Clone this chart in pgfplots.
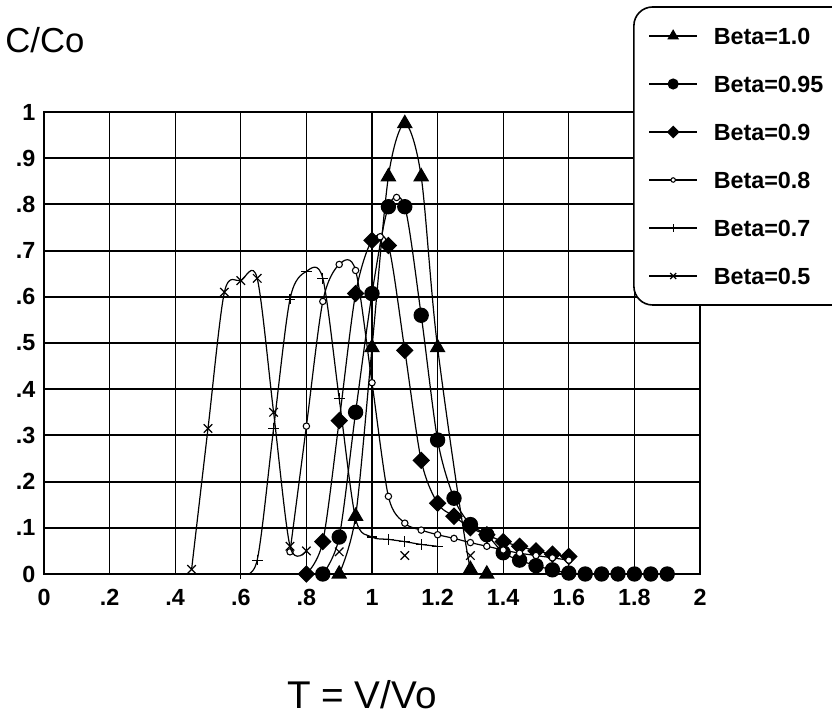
\documentclass[border=0pt]{standalone}
\usepackage{fontspec}
\setmainfont{Liberation Sans}
\usepackage{pgfplots}
\pgfplotsset{compat=1.18}
\tikzset{every mark/.append style={sharp corners}}

\begin{document}
\begin{tikzpicture}
\useasboundingbox (0,0) rectangle (624pt,537.75pt);
\begin{axis}[
  at={(33pt,107.25pt)}, anchor=south west,
  scale only axis, width=492pt, height=346.5pt,
  xmin=0, xmax=2, ymin=0, ymax=1,
  clip mode=individual,
  xtick={0,0.2,0.4,0.6,0.8,1,1.2,1.4,1.6,1.8,2},
  ytick={0,0.1,0.2,0.3,0.4,0.5,0.6,0.7,0.8,0.9,1},
  xticklabels={0,.2,.4,.6,.8,1,1.2,1.4,1.6,1.8,2},
  yticklabels={0,.1,.2,.3,.4,.5,.6,.7,.8,.9,1},
  ticklabel style={font=\fontsize{17.5}{20}\selectfont\bfseries},
  major tick length=0pt,
  xticklabel style={yshift=-8pt},
  yticklabel style={xshift=-3pt},
  grid=major,
  major x grid style={black, line width=1pt},
  major y grid style={black, line width=1.4pt},
  axis line style={line width=1.2pt},
  every axis plot/.append style={black, line width=0.9pt},
  legend cell align=left,
  legend image code/.code={\draw[mark repeat=2,mark phase=2,#1] plot coordinates {(0pt,0pt) (18pt,0pt) (36pt,0pt)};},
  legend image post style={every mark/.append style={scale=0.7}},
  legend style={at={(0.898,1.229)}, anchor=north west, draw=black, line width=1.2pt,
    rounded corners=14pt, fill=white, font=\fontsize{17.5}{20}\selectfont\bfseries,
    inner xsep=11pt, inner ysep=15.5pt, row sep=23.5pt, column sep=12pt,
    nodes={inner sep=0pt, text height=12.5pt, text depth=0pt}},
]
% Beta=1.0
\addplot[smooth, mark=triangle*, mark size=6pt] coordinates {
  (0.9,0) (0.95,0.125) (1.0,0.49) (1.05,0.86) (1.1,0.975) (1.15,0.86)
  (1.2,0.49) (1.3,0.01) (1.35,0)};
\addlegendentry{\makebox[100pt][l]{Beta=1.0}}
% Beta=0.95
\addplot[smooth, mark=*, mark size=5.3pt] coordinates {
  (0.85,0) (0.9,0.08) (0.95,0.35) (1.0,0.607) (1.05,0.795) (1.1,0.795)
  (1.15,0.56) (1.2,0.29) (1.25,0.164) (1.3,0.107) (1.35,0.085) (1.4,0.046)
  (1.45,0.03) (1.5,0.018) (1.55,0.009) (1.6,0.002) (1.65,0) (1.7,0)
  (1.75,0) (1.8,0) (1.85,0) (1.9,0)};
\addlegendentry{Beta=0.95}
% Beta=0.9
\addplot[smooth, mark=square*, mark size=4.2pt, mark options={rotate=45}] coordinates {
  (0.8,0) (0.85,0.07) (0.9,0.332) (0.95,0.607) (1.0,0.722) (1.05,0.711)
  (1.1,0.484) (1.15,0.246) (1.2,0.153) (1.25,0.125) (1.3,0.1) (1.35,0.085)
  (1.4,0.07) (1.45,0.06) (1.5,0.05) (1.55,0.043) (1.6,0.038)};
\addlegendentry{Beta=0.9}
% Beta=0.8
\addplot[smooth, mark=*, mark size=2.4pt, mark options={fill=white, line width=0.8pt}] coordinates {
  (0.75,0.048) (0.8,0.32) (0.85,0.59) (0.9,0.67) (0.95,0.657) (1.0,0.414)
  (1.05,0.168) (1.1,0.11) (1.15,0.095) (1.2,0.085) (1.25,0.077) (1.3,0.068)
  (1.35,0.06) (1.4,0.052) (1.45,0.045) (1.5,0.04) (1.55,0.035) (1.6,0.03)};
\addlegendentry{Beta=0.8}
% Beta=0.7
\addplot[smooth, mark=+, mark size=4pt] coordinates {
  (0.6,0) (0.65,0.03) (0.7,0.315) (0.75,0.595) (0.8,0.655) (0.85,0.64)
  (0.9,0.38) (0.95,0.12) (1.0,0.08) (1.05,0.075) (1.1,0.07) (1.15,0.064)
  (1.2,0.06)};
\addlegendentry{Beta=0.7}
% Beta=0.5
\addplot[smooth, mark=x, mark size=4.5pt] coordinates {
  (0.45,0.01) (0.5,0.315) (0.55,0.61) (0.6,0.635) (0.65,0.64) (0.7,0.35)
  (0.75,0.06) (0.8,0.05)};
\addlegendentry{Beta=0.5}
% loose marks
\addplot[only marks, mark=x, mark size=4.5pt, forget plot] coordinates {
  (0.9,0.048) (1.1,0.04) (1.3,0.04)};
\addplot[only marks, mark=*, mark size=2.4pt, mark options={fill=white, line width=0.8pt}, forget plot] coordinates {
  (1.025,0.73) (1.075,0.815)};
\end{axis}
\node[anchor=base west, font=\fontsize{26}{30}\selectfont] at (0.5pt,498pt) {C/Co};
\node[anchor=base, font=\fontsize{29}{34}\selectfont] at (271.5pt,6pt) {T = V/Vo};
\end{tikzpicture}
\end{document}
